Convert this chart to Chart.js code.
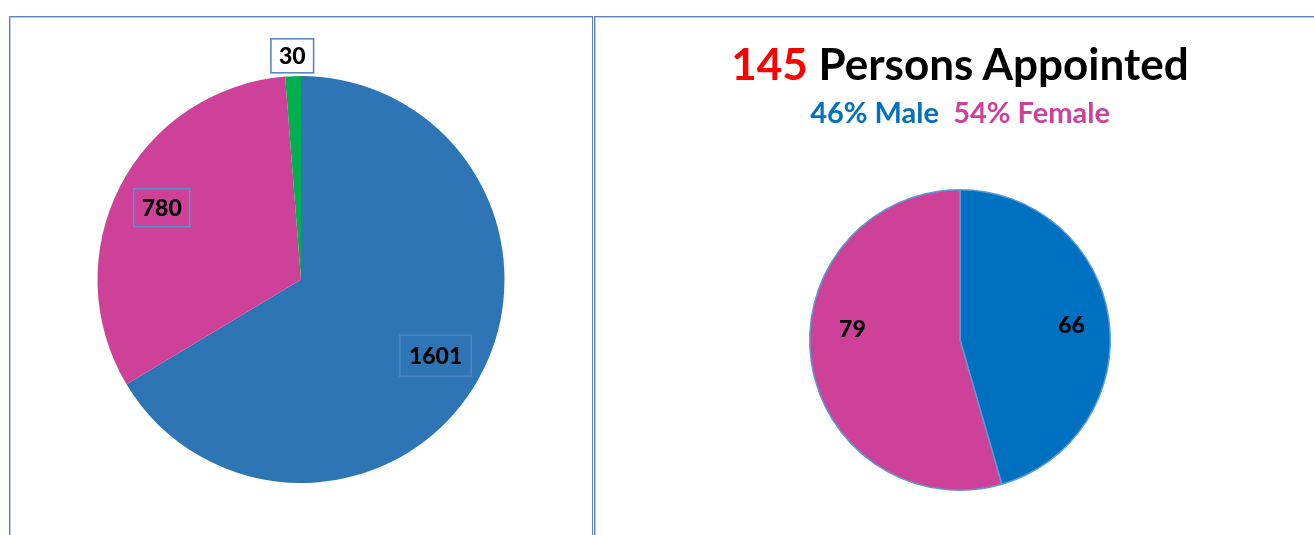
<!DOCTYPE html>
<html>
<head>
<meta charset="utf-8">
<script src="https://cdn.jsdelivr.net/npm/chart.js@4/dist/chart.umd.min.js"></script>
<style>
  body { margin: 0; background: #fff; width: 1314px; height: 535px; overflow: hidden; font-family: Lato, sans-serif; }
  .panel { position: absolute; border-left: 1px solid #5b80bf; border-top: 1px solid #5b80bf; box-shadow: inset 1px 1px 0 #b9cce9; }
  #leftPanel { left: 9px; top: 16px; width: 582px; height: 530px; border-right: 1px solid #5b80bf; }
  #rightPanel { left: 594px; top: 16px; width: 740px; height: 530px; }
  canvas { position: absolute; }
  .title { position: absolute; left: 596px; width: 728px; text-align: center; font-weight: bold; white-space: nowrap; }
</style>
</head>
<body>
<div class="panel" id="leftPanel"></div>
<div class="panel" id="rightPanel"></div>
<div style="position:absolute;left:10px;top:17px;width:582px;height:518px;"><canvas id="totalChart"></canvas></div>
<div style="position:absolute;left:596px;top:17px;width:718px;height:518px;"><canvas id="genderChart"></canvas></div>
<div class="title" style="top:37px;font-size:44px;color:#000;"><span style="color:#ff0000;">145</span> Persons Appointed</div>
<div class="title" style="top:94px;font-size:29px;"><span style="color:#0070c0;">46% Male</span>&nbsp; <span style="color:#cd4199;">54% Female</span></div>
<script>
const totalLabels = ['Group A', 'Group B', 'Group C'];
const totalValues = [1601, 780, 30];
const totalColors = ['#2e75b6', '#cd4199', '#00b050'];

const genderLabels = ['Male', 'Female'];
const genderValues = [66, 79];
const genderColors = ['#0070c0', '#cd4199'];

const labelFont = '900 23px Lato';

// label placement per chart (kept outside chart options so Chart.js doesn't resolve it)
const labelStyle = {
    totalChart: {
        dist: [0.76, 0.77, 1.1],
        shift: [0, 0, 0],
        box: [
            { padX: 9, h: 41, stroke: '#4a86c8' },
            { padX: 8, h: 38, stroke: '#5b8fd0' },
            { padX: 8, h: 34, stroke: '#4f81bd', bg: '#ffffff' }
        ]
    },
    genderChart: {
        dist: [0.75, 0.72],
        shift: [0, 14],
        box: []
    }
};

// draws the value labels (with optional boxes) inside/outside the slices
const sliceLabels = {
    id: 'sliceLabels',
    afterDatasetsDraw(chart) {
        const opts = labelStyle[chart.canvas.id];
        const ctx = chart.ctx;
        const meta = chart.getDatasetMeta(0);
        const values = chart.data.datasets[0].data;
        ctx.save();
        ctx.font = labelFont;
        ctx.textAlign = 'center';
        ctx.textBaseline = 'middle';
        meta.data.forEach((arc, i) => {
            const p = arc.getProps(['x', 'y', 'startAngle', 'endAngle', 'outerRadius'], true);
            const mid = (p.startAngle + p.endAngle) / 2 + opts.shift[i] * Math.PI / 180;
            const r = p.outerRadius * opts.dist[i];
            const x = p.x + Math.cos(mid) * r;
            const y = p.y + Math.sin(mid) * r;
            const txt = String(values[i]);
            const b = opts.box[i];
            if (b) {
                const w = ctx.measureText(txt).width + b.padX * 2;
                const h = b.h;
                if (b.bg) {
                    ctx.fillStyle = b.bg;
                    ctx.fillRect(x - w / 2, y - h / 2, w, h);
                }
                ctx.strokeStyle = b.stroke;
                ctx.lineWidth = 1.5;
                ctx.strokeRect(x - w / 2, y - h / 2, w, h);
            }
            ctx.fillStyle = '#000000';
            ctx.fillText(txt, x, y + 1);
        });
        ctx.restore();
    }
};

function drawCharts() {
    new Chart(document.getElementById('totalChart'), {
        type: 'pie',
        data: {
            labels: totalLabels,
            datasets: [{
                data: totalValues,
                backgroundColor: totalColors,
                borderWidth: 0
            }]
        },
        options: {
            responsive: true,
            maintainAspectRatio: false,
            animation: false,
            layout: { padding: { top: 59, bottom: 52, left: 0, right: 0 } },
            plugins: {
                legend: { display: false },
                tooltip: { enabled: false }
            }
        },
        plugins: [sliceLabels]
    });

    new Chart(document.getElementById('genderChart'), {
        type: 'pie',
        data: {
            labels: genderLabels,
            datasets: [{
                data: genderValues,
                backgroundColor: genderColors,
                borderColor: '#5b9bd5',
                borderWidth: 1.5
            }]
        },
        options: {
            responsive: true,
            maintainAspectRatio: false,
            animation: false,
            layout: { padding: { top: 172, bottom: 44, left: 10, right: 0 } },
            plugins: {
                legend: { display: false },
                tooltip: { enabled: false }
            }
        },
        plugins: [sliceLabels]
    });
}

// make sure the heavy face is ready before the canvas text is drawn
document.fonts.load(labelFont).then(drawCharts, drawCharts);
</script>
</body>
</html>
